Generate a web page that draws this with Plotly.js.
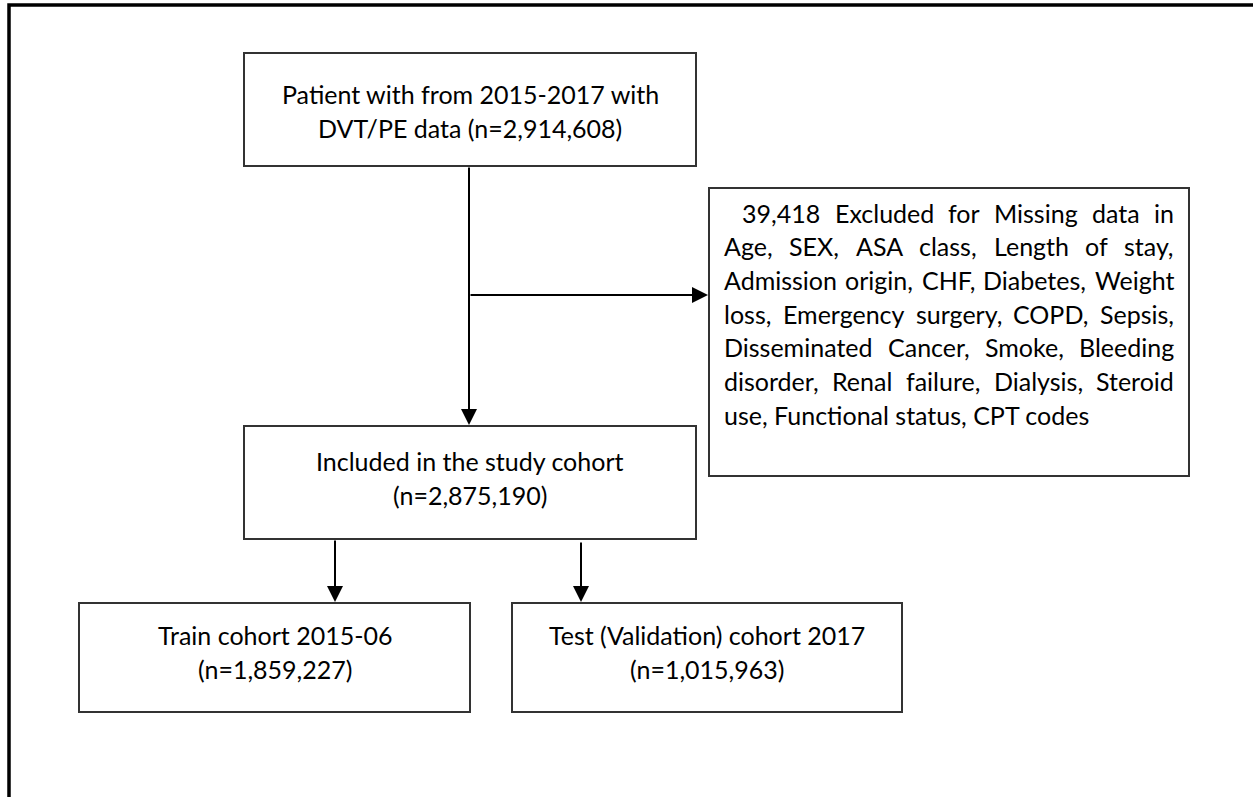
<!DOCTYPE html>
<html>
<head>
<meta charset="utf-8">
<script src="https://cdn.plot.ly/plotly-3.0.1.min.js"></script>
<style>html,body{margin:0;padding:0;background:#fff;}#chart{width:1253px;height:797px;}</style>
</head>
<body>
<div id="chart"></div>
<script>
// ---- flowchart content ----
const topBoxLines = ["Patient with from 2015-2017 with", "DVT/PE data (n=2,914,608)"];
const includedLines = ["Included in the study cohort", "(n=2,875,190)"];
const trainLines = ["Train cohort 2015-06", "(n=1,859,227)"];
const testLines = ["Test (Validation) cohort 2017", "(n=1,015,963)"];
const excludedLines = [
  "39,418 Excluded for Missing data in",
  "Age, SEX, ASA class, Length of stay,",
  "Admission origin, CHF, Diabetes, Weight",
  "loss, Emergency surgery, COPD, Sepsis,",
  "Disseminated Cancer, Smoke, Bleeding",
  "disorder, Renal failure, Dialysis, Steroid",
  "use, Functional status, CPT codes"
];

// ---- layout geometry (pixels) ----
const W = 1253, H = 797;
const FONT = "Lato";
const FS = 25;
const boxes = {
  top:      {x0: 244, x1: 696, y0: 53,  y1: 166, lines: topBoxLines, base: [102, 136]},
  included: {x0: 244, x1: 696, y0: 426, y1: 539, lines: includedLines, base: [469, 503]},
  train:    {x0: 79,  x1: 470, y0: 603, y1: 712, lines: trainLines, base: [643, 677]},
  test:     {x0: 512, x1: 902, y0: 603, y1: 712, lines: testLines, base: [643, 677]},
  excluded: {x0: 709, x1: 1189, y0: 188, y1: 476}
};
const boxLine = {color: "#333333", width: 2};
const arrowColor = "#000000";

const shapes = [];
const annotations = [];

// outer frame (right and bottom outside the picture)
shapes.push({type: "path", xref: "x", yref: "y",
  path: "M 9 " + (H + 10) + " L 9 5 L " + (W + 10) + " 5",
  line: {color: "#000", width: 3.5}});

for (const k in boxes) {
  const b = boxes[k];
  shapes.push({type: "rect", xref: "x", yref: "y", x0: b.x0, x1: b.x1, y0: b.y0, y1: b.y1,
    line: boxLine, fillcolor: "rgba(0,0,0,0)"});
}

// centered texts
function baseToMid(base) { return base - 0.34 * FS; }
for (const k of ["top", "included", "train", "test"]) {
  const b = boxes[k];
  b.lines.forEach((t, i) => {
    annotations.push({xref: "x", yref: "y", x: (b.x0 + b.x1) / 2, y: baseToMid(b.base[i]),
      text: t, showarrow: false, xanchor: "center", yanchor: "middle",
      font: {family: FONT, size: FS, color: "#000"}});
  });
}

// connectors
function arrow(x0, y0, x1, y1) {
  annotations.push({xref: "x", yref: "y", axref: "x", ayref: "y",
    x: x1, y: y1, ax: x0, ay: y0, text: "", showarrow: true,
    arrowhead: 2, arrowsize: 1.6, arrowwidth: 2, arrowcolor: arrowColor, standoff: 0});
}
arrow(469, 166, 469, 425);
arrow(469, 295, 708, 295);
arrow(335, 539, 335, 602);
arrow(581, 541, 581, 602);

// justified excluded text
const canvas = document.createElement("canvas");
const ctx = canvas.getContext("2d");
ctx.font = FS + "px " + FONT;
const exLeft = 723, exRight = 1173, exIndent = 741, exBase0 = 221, exStep = 33.7;
excludedLines.forEach((line, i) => {
  const y = baseToMid(exBase0 + i * exStep);
  const left = i === 0 ? exIndent : exLeft;
  if (i === excludedLines.length - 1) {
    annotations.push({xref: "x", yref: "y", x: left, y: y, text: line, showarrow: false,
      xanchor: "left", yanchor: "middle", borderpad: 0,
      font: {family: FONT, size: FS, color: "#000"}});
    return;
  }
  const words = line.split(" ");
  const widths = words.map(w => ctx.measureText(w).width);
  const total = widths.reduce((a, c) => a + c, 0);
  const gap = (exRight - left - total) / (words.length - 1);
  let x = left;
  words.forEach((w, j) => {
    annotations.push({xref: "x", yref: "y", x: x, y: y, text: w, showarrow: false,
      xanchor: "left", yanchor: "middle", borderpad: 0,
      font: {family: FONT, size: FS, color: "#000"}});
    x += widths[j] + gap;
  });
});

const layout = {
  width: W, height: H,
  margin: {l: 0, r: 0, t: 0, b: 0},
  paper_bgcolor: "#fff", plot_bgcolor: "#fff",
  showlegend: false,
  xaxis: {range: [0, W], visible: false, fixedrange: true},
  yaxis: {range: [H, 0], visible: false, fixedrange: true},
  shapes: shapes,
  annotations: annotations
};
Plotly.newPlot("chart", [], layout, {displayModeBar: false, staticPlot: true});
</script>
</body>
</html>
